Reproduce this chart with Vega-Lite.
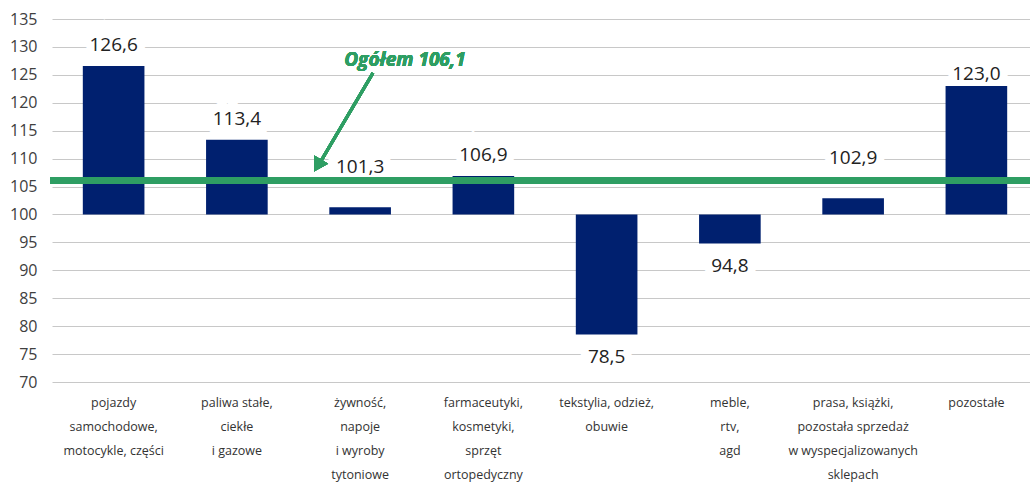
{
  "$schema": "https://vega.github.io/schema/vega-lite/v6.json",
  "width": 986,
  "height": 363,
  "autosize": {"type": "none"},
  "padding": {"left": 52, "top": 19, "right": 0, "bottom": 103},
  "background": "white",
  "config": {
    "view": {"stroke": null},
    "font": "Open Sans",
    "locale": {"number": {"decimal": ",", "thousands": " ", "grouping": [3], "currency": ["", " zł"]}}
  },
  "data": {
    "values": [
      {"kategoria": "pojazdy|samochodowe,|motocykle,  części", "wartosc": 126.6},
      {"kategoria": "paliwa stałe,|ciekłe|i gazowe", "wartosc": 113.4},
      {"kategoria": "żywność,|napoje|i wyroby|tytoniowe", "wartosc": 101.3},
      {"kategoria": "farmaceutyki,|kosmetyki,|sprzęt|ortopedyczny", "wartosc": 106.9},
      {"kategoria": "tekstylia, odzież,|obuwie", "wartosc": 78.5},
      {"kategoria": "meble,|rtv,|agd", "wartosc": 94.8},
      {"kategoria": "prasa, książki,|pozostała sprzedaż|w wyspecjalizowanych|sklepach", "wartosc": 102.9},
      {"kategoria": "pozostałe", "wartosc": 123.0}
    ]
  },
  "layer": [
    {
      "encoding": {
        "x": {
          "field": "kategoria", "type": "nominal", "sort": null,
          "scale": {
            "domain": [
              "pojazdy|samochodowe,|motocykle,  części",
              "paliwa stałe,|ciekłe|i gazowe",
              "żywność,|napoje|i wyroby|tytoniowe",
              "farmaceutyki,|kosmetyki,|sprzęt|ortopedyczny",
              "tekstylia, odzież,|obuwie",
              "meble,|rtv,|agd",
              "prasa, książki,|pozostała sprzedaż|w wyspecjalizowanych|sklepach",
              "pozostałe"
            ],
            "paddingInner": 0.5, "paddingOuter": 0.25
          },
          "axis": {
            "title": null, "domain": false, "ticks": false, "labelAngle": 0,
            "labelExpr": "split(datum.label, '|')",
            "labelFontSize": 12.5, "labelColor": "#333333", "labelLineHeight": 24,
            "labelPadding": 14, "labelBaseline": "top", "labelLimit": 200
          }
        },
        "y": {
          "field": "wartosc", "type": "quantitative",
          "scale": {"domain": [70, 135], "nice": false, "zero": false},
          "axis": {
            "title": null, "domain": false, "ticks": false,
            "values": [70, 75, 80, 85, 90, 95, 100, 105, 110, 115, 120, 125, 130, 135],
            "labelOverlap": false,
            "labelFontSize": 16, "labelColor": "#404040", "labelPadding": 15,
            "gridColor": "#C8C8C8", "gridWidth": 1
          }
        },
        "text": {"field": "wartosc", "type": "quantitative", "format": ".1f"}
      },
      "layer": [
        {
          "transform": [{"filter": "datum.wartosc >= 100 && datum.wartosc != 101.3 && datum.wartosc != 102.9 && datum.wartosc != 123"}],
          "mark": {"type": "text", "dy": -21, "fontSize": 19, "stroke": "white", "strokeWidth": 16, "color": "white"}
        },
        {
          "transform": [{"filter": "datum.wartosc == 123"}],
          "mark": {"type": "text", "dy": -12, "fontSize": 19, "stroke": "white", "strokeWidth": 16, "color": "white"}
        },
        {
          "transform": [{"filter": "datum.wartosc == 101.3 || datum.wartosc == 102.9"}],
          "mark": {"type": "text", "dy": -40, "fontSize": 19, "stroke": "white", "strokeWidth": 16, "color": "white"}
        },
        {
          "transform": [{"filter": "datum.wartosc < 100"}],
          "mark": {"type": "text", "dy": 22, "fontSize": 19, "stroke": "white", "strokeWidth": 16, "color": "white"}
        },
        {
          "mark": {"type": "bar", "color": "#00206F"},
          "encoding": {"y2": {"datum": 100}, "text": {"value": ""}}
        },
        {
          "transform": [{"filter": "datum.wartosc >= 100 && datum.wartosc != 101.3 && datum.wartosc != 102.9 && datum.wartosc != 123"}],
          "mark": {"type": "text", "dy": -21, "fontSize": 19, "color": "#222222"}
        },
        {
          "transform": [{"filter": "datum.wartosc == 123"}],
          "mark": {"type": "text", "dy": -12, "fontSize": 19, "color": "#222222"}
        },
        {
          "transform": [{"filter": "datum.wartosc == 101.3 || datum.wartosc == 102.9"}],
          "mark": {"type": "text", "dy": -40, "fontSize": 19, "color": "#222222"}
        },
        {
          "transform": [{"filter": "datum.wartosc < 100"}],
          "mark": {"type": "text", "dy": 22, "fontSize": 19, "color": "#222222"}
        },
        {
          "mark": {"type": "rule", "color": "#2E9E63", "strokeWidth": 7},
          "encoding": {"x": {"value": -2}, "x2": {"value": 986}, "y": {"datum": 106.1}, "text": {"value": ""}}
        }
      ]
    },
    {
      "layer": [
        {
          "mark": {"type": "rule", "color": "#2E9E63", "strokeWidth": 3},
          "encoding": {
            "x": {"datum": 2.604, "type": "quantitative", "scale": {"domain": [0, 8]}, "axis": null},
            "y": {"datum": 125.33, "type": "quantitative", "scale": {"domain": [70, 135], "nice": false, "zero": false}, "axis": null},
            "x2": {"datum": 2.18},
            "y2": {"datum": 109.5}
          }
        },
        {
          "mark": {"type": "point", "shape": "triangle-up", "filled": true, "color": "#2E9E63", "size": 260, "angle": 211, "opacity": 1},
          "encoding": {
            "x": {"datum": 2.155, "type": "quantitative", "scale": {"domain": [0, 8]}, "axis": null},
            "y": {"datum": 108.75, "type": "quantitative", "scale": {"domain": [70, 135], "nice": false, "zero": false}, "axis": null}
          }
        },
        {
          "mark": {"type": "text", "text": "Ogółem 106,1", "fontSize": 19, "fontWeight": "bold", "fontStyle": "italic", "color": "#2E9E63"},
          "encoding": {
            "x": {"datum": 2.864, "type": "quantitative", "scale": {"domain": [0, 8]}, "axis": null},
            "y": {"datum": 127.66, "type": "quantitative", "scale": {"domain": [70, 135], "nice": false, "zero": false}, "axis": null}
          }
        }
      ]
    }
  ],
  "resolve": {"scale": {"x": "independent", "y": "independent"}, "axis": {"x": "independent", "y": "independent"}}
}
